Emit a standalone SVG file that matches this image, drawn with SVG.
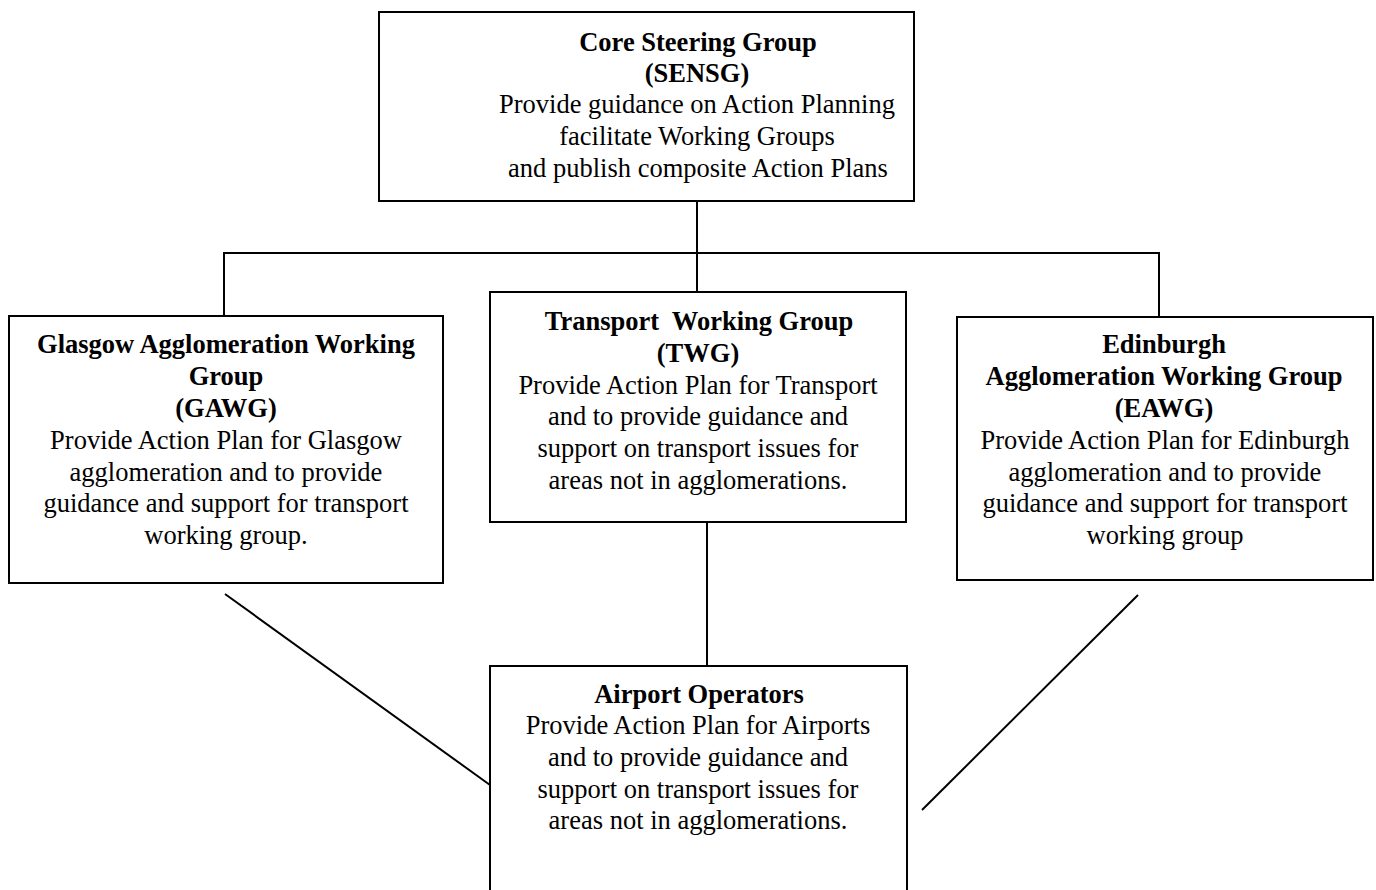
<svg xmlns="http://www.w3.org/2000/svg" width="1376" height="890" viewBox="0 0 1376 890">
<style>
.box{fill:#fff;stroke:#000;stroke-width:2}
.c{fill:none;stroke:#000;stroke-width:2}
text{font-family:"Liberation Serif","Times New Roman",serif;font-size:26.5px;fill:#000;text-anchor:middle}
.b{font-weight:bold}
</style>
<rect width="1376" height="890" fill="#fff"/>
<g id="connectors">
<line class="c" x1="697" y1="201" x2="697" y2="292"/>
<polyline class="c" points="224,316 224,253 1159,253 1159,317"/>
<line class="c" x1="707" y1="522" x2="707" y2="666"/>
<line class="c" x1="225" y1="594" x2="490" y2="785"/>
<line class="c" x1="1138" y1="595" x2="922" y2="810"/>
</g>
<g id="core">
<rect class="box" x="379" y="12" width="535" height="189"/>
<text class="b" x="698" y="51">Core Steering Group</text>
<text class="b" x="697" y="82">(SENSG)</text>
<text x="697" y="113">Provide guidance on Action Planning</text>
<text x="697" y="145">facilitate Working Groups</text>
<text x="698" y="177">and publish composite Action Plans</text>
</g>
<g id="gawg">
<rect class="box" x="9" y="316" width="434" height="267"/>
<text class="b" x="226" y="353">Glasgow Agglomeration Working</text>
<text class="b" x="226" y="385">Group</text>
<text class="b" x="226" y="417">(GAWG)</text>
<text x="226" y="449">Provide Action Plan for Glasgow</text>
<text x="226" y="481">agglomeration and to provide</text>
<text x="226" y="512">guidance and support for transport</text>
<text x="226" y="544">working group.</text>
</g>
<g id="twg">
<rect class="box" x="490" y="292" width="416" height="230"/>
<text class="b" x="699" y="330" xml:space="preserve">Transport  Working Group</text>
<text class="b" x="698" y="362">(TWG)</text>
<text x="698" y="394">Provide Action Plan for Transport</text>
<text x="698" y="425">and to provide guidance and</text>
<text x="698" y="457">support on transport issues for</text>
<text x="698" y="489">areas not in agglomerations.</text>
</g>
<g id="eawg">
<rect class="box" x="957" y="317" width="416" height="263"/>
<text class="b" x="1164" y="353">Edinburgh</text>
<text class="b" x="1164" y="385">Agglomeration Working Group</text>
<text class="b" x="1164" y="417">(EAWG)</text>
<text x="1165" y="449">Provide Action Plan for Edinburgh</text>
<text x="1165" y="481">agglomeration and to provide</text>
<text x="1165" y="512">guidance and support for transport</text>
<text x="1165" y="544">working group</text>
</g>
<g id="airport">
<rect class="box" x="490" y="666" width="417" height="240"/>
<text class="b" x="699" y="703">Airport Operators</text>
<text x="698" y="734">Provide Action Plan for Airports</text>
<text x="698" y="766">and to provide guidance and</text>
<text x="698" y="798">support on transport issues for</text>
<text x="698" y="829">areas not in agglomerations.</text>
</g>
</svg>
